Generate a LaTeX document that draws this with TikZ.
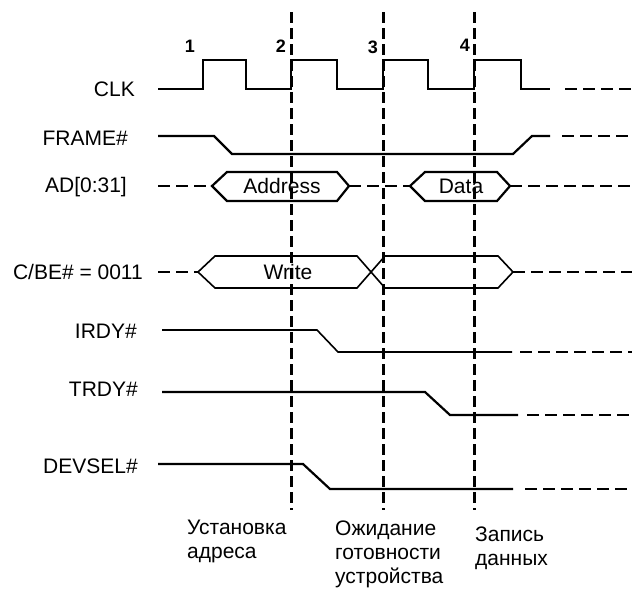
\documentclass[tikz,border=0pt]{standalone}
\usepackage{fontspec}
\setmainfont{Liberation Sans}
\usepackage{tikz}
\tikzset{
    siglabel/.style={anchor=east, inner sep=0pt, font=\fontsize{21}{24}\selectfont},
    busname/.style={inner sep=0pt, font=\fontsize{21}{24}\selectfont},
    edgenum/.style={inner sep=0pt, font=\fontsize{18}{20}\selectfont\bfseries},
    phaselabel/.style={anchor=base west, inner sep=0pt, align=left, font=\fontsize{21}{24}\selectfont},
    wave/.style={line width=2.2pt, line join=miter},
    thinwave/.style={line width=1.6pt, line join=miter},
    waveext/.style={line width=2.2pt, dash pattern=on 12pt off 6pt},
    thinext/.style={line width=1.6pt, dash pattern=on 12pt off 6pt},
    edgeline/.style={line width=3pt, dash pattern=on 11pt off 5pt},
}

\begin{document}
\begin{tikzpicture}[x=1pt, y=-1pt]
    \useasboundingbox (0,0) rectangle (632,589);

    \foreach \x/\n in {291/2, 383/3, 474/4}
        \draw[edgeline] (\x,12) coordinate (top\n) -- (\x,510) coordinate (bot\n);

    \node[edgenum] (n1) at (190,46) {1};
    \node[edgenum] (n2) at (281,46) {2};
    \node[edgenum] (n3) at (373,47) {3};
    \node[edgenum] (n4) at (465,45) {4};

    \node[siglabel] (clk) at (135,89) {CLK};
    \node[siglabel] (frame) at (128,138) {FRAME\#};
    \node[siglabel] (ad) at (127,187) {AD[0:31]};
    \node[siglabel] (cbe) at (143,272) {C/BE\# = 0011};
    \node[siglabel] (irdy) at (137,331) {IRDY\#};
    \node[siglabel] (trdy) at (138,389) {TRDY\#};
    \node[siglabel] (devsel) at (138,466) {DEVSEL\#};

    \draw[wave] (158,89) -- (203,89) -- (203,60) -- (246,60) -- (246,89) -- (291,89) -- (291,60)
        -- (337,60) -- (337,89) -- (383,89) -- (383,60) -- (428,60) -- (428,89) -- (474,89)
        -- (474,60) -- (521,60) -- (521,89) -- (550,89);
    \draw[waveext] (565,89) -- (632,89);

    \draw[wave] (158,136) -- (214,136) -- (232,154) -- (513,154) -- (532,136) -- (550,136);
    \draw[waveext] (562,136) -- (630,136);

    \draw[waveext] (158,186) -- (212,186);
    \draw[wave] (212,186) -- (227,172) -- (337,172) -- (349,186) -- (337,201) -- (227,201) -- cycle;
    \node[busname] (addr) at (282,186) {Address};
    \draw[waveext] (349,186) -- (410,186);
    \draw[wave] (410,186) -- (425,172) -- (497,172) -- (510,186) -- (497,201) -- (425,201) -- cycle;
    \node[busname] (data) at (461,186) {Data};
    \draw[waveext] (510,186) -- (632,186);

    \draw[waveext] (158,272) -- (198,272);
    \draw[thinwave] (198,272) -- (215,256) -- (357,256) -- (385,288) -- (498,288) -- (513,272)
        -- (498,256) -- (385,256) -- (357,288) -- (215,288) -- cycle;
    \node[busname] (write) at (288,272) {Write};
    \draw[waveext] (513,272) -- (632,272);

    \draw[thinwave] (162,330) -- (317,330) -- (338,352) -- (512,352);
    \draw[thinext] (520,352) -- (632,352);

    \draw[wave] (162,392) -- (425,392) -- (450,415) -- (518,415);
    \draw[waveext] (527,415) -- (632,415);

    \draw[wave] (158,464) -- (303,464) -- (330,489) -- (513,489);
    \draw[waveext] (525,489) -- (632,489);

    \node[phaselabel] (setup) at (187,558) {Установка\\адреса};
    \node[phaselabel] (wait) at (335,583) {Ожидание\\готовности\\устройства};
    \node[phaselabel] (store) at (475,565) {Запись\\данных};
\end{tikzpicture}
\end{document}
